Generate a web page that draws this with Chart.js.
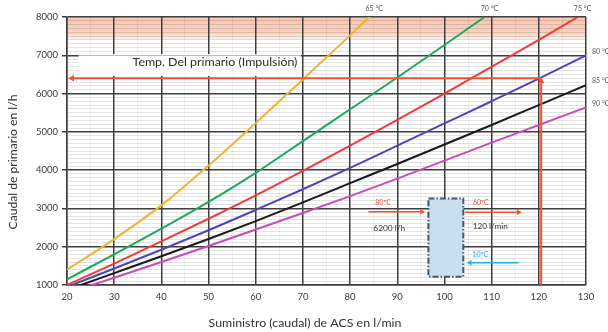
<!DOCTYPE html>
<html><head><meta charset="utf-8">
<script src="https://cdn.jsdelivr.net/npm/chart.js@4.4.1/dist/chart.umd.min.js"></script>
<style>html,body{margin:0;padding:0;background:#fff;}</style>
</head><body>
<canvas id="c" width="608" height="332"></canvas>
<script>
// ---- data ----
const flow = [20, 30, 40, 50, 60, 70, 80, 90, 100, 110, 120, 130];
const t65 = [1400, 2200, 3080, 4120, 5230, 6370, 7520, 8700, null, null, null, null];
const t70 = [1150, 1800, 2470, 3170, 3930, 4760, 5590, 6420, 7270, 8130, null, null];
const t75 = [1000, 1560, 2140, 2730, 3340, 3980, 4640, 5310, 6000, 6700, 7400, 8130];
const t80 = [950, 1430, 1920, 2430, 2960, 3500, 4060, 4640, 5220, 5800, 6390, 7000];
const t85 = [870, 1310, 1750, 2200, 2670, 3160, 3660, 4160, 4670, 5180, 5700, 6220];
const t90 = [790, 1190, 1600, 2020, 2450, 2880, 3320, 3780, 4250, 4720, 5180, 5640];
const seriesNames = ['65 °C', '70 °C', '75 °C', '80 °C', '85 °C', '90 °C'];
const seriesColors = ['#f2b232', '#1ca95c', '#ef3b3b', '#4f46b3', '#1a1a1a', '#c64cb8'];
const xTickLabels = [20, 30, 40, 50, 60, 70, 80, 90, 100, 110, 120, 130];
const yTickLabels = [1000, 2000, 3000, 4000, 5000, 6000, 7000, 8000];
const readFlow = 120.5;      // l/min
const readPrimary = 6400;    // l/h
const hotBand = [7400, 8000];
const exchanger = {x0: 96.6, x1: 104.0, y0: 1217, y1: 3262};

const FONT = 'Lato, "Open Sans", sans-serif';
const allSeries = [t65, t70, t75, t80, t85, t90];

function fitText(ctx, text, width, base) {
  ctx.font = base + 'px ' + FONT;
  const w = ctx.measureText(text).width;
  ctx.font = (base * width / w).toFixed(2) + 'px ' + FONT;
}

function arrow(ctx, x1, y1, x2, y2, color, w, head) {
  ctx.save();
  ctx.strokeStyle = color; ctx.fillStyle = color; ctx.lineWidth = w;
  const ang = Math.atan2(y2 - y1, x2 - x1);
  const hx = x2 - Math.cos(ang) * head, hy = y2 - Math.sin(ang) * head;
  ctx.beginPath(); ctx.moveTo(x1, y1); ctx.lineTo(hx, hy); ctx.stroke();
  ctx.beginPath();
  ctx.moveTo(x2, y2);
  ctx.lineTo(hx + Math.sin(ang) * head * 0.55, hy - Math.cos(ang) * head * 0.55);
  ctx.lineTo(hx - Math.sin(ang) * head * 0.55, hy + Math.cos(ang) * head * 0.55);
  ctx.closePath(); ctx.fill();
  ctx.restore();
}

const deco = {
  id: 'deco',
  beforeDraw(chart) {
    const {ctx, chartArea: a, scales: {x, y}} = chart;
    const yt = y.getPixelForValue(hotBand[1]), yb = y.getPixelForValue(hotBand[0]);
    const g = ctx.createLinearGradient(0, yt, 0, yb);
    g.addColorStop(0, 'rgb(247,198,176)');
    g.addColorStop(0.7, 'rgb(249,210,192)');
    g.addColorStop(1, 'rgba(253,236,228,0.6)');
    ctx.save(); ctx.fillStyle = g;
    ctx.fillRect(a.left, yt, a.right - a.left, yb - yt);
    ctx.restore();
  },
  beforeDatasetsDraw(chart) {
    const {ctx, scales: {x, y}} = chart;
    ctx.save();
    // white box behind the caption
    const bx0 = x.getPixelForValue(22.5), bx1 = x.getPixelForValue(69.5);
    const by0 = y.getPixelForValue(7030), by1 = y.getPixelForValue(6460);
    ctx.fillStyle = '#ffffff';
    ctx.fillRect(bx0, by0, bx1 - bx0, by1 - by0);
    ctx.strokeStyle = '#bdbdbd'; ctx.lineWidth = 1;
    const y7 = Math.round(y.getPixelForValue(7000)) + 0.5;
    ctx.beginPath(); ctx.moveTo(bx0, y7); ctx.lineTo(bx1, y7); ctx.stroke();
    // heat exchanger
    const ex0 = x.getPixelForValue(exchanger.x0), ex1 = x.getPixelForValue(exchanger.x1);
    const ey0 = y.getPixelForValue(exchanger.y1), ey1 = y.getPixelForValue(exchanger.y0);
    ctx.fillStyle = '#c7dff1';
    ctx.fillRect(ex0, ey0, ex1 - ex0, ey1 - ey0);
    ctx.setLineDash([6, 2, 1.5, 2]);
    ctx.strokeStyle = '#4a5566'; ctx.lineWidth = 2;
    ctx.strokeRect(ex0, ey0, ex1 - ex0, ey1 - ey0);
    ctx.restore();
  },
  afterDatasetsDraw(chart) {
    const {ctx, chartArea: a, scales: {x, y}} = chart;
    const red = '#f0522e';
    // reading lines
    const rx = x.getPixelForValue(readFlow), ry = y.getPixelForValue(readPrimary);
    arrow(ctx, rx, ry, a.left + 1, ry, red, 2, 6);
    arrow(ctx, rx, a.bottom, rx, ry - 1, red, 2, 6);
    // schematic arrows
    arrow(ctx, x.getPixelForValue(83.9), y.getPixelForValue(2913), x.getPixelForValue(95.9), y.getPixelForValue(2913), red, 1.5, 5);
    arrow(ctx, x.getPixelForValue(104.4), y.getPixelForValue(2897), x.getPixelForValue(116.4), y.getPixelForValue(2897), red, 1.5, 5);
    arrow(ctx, x.getPixelForValue(115.7), y.getPixelForValue(1582), x.getPixelForValue(104.7), y.getPixelForValue(1582), '#1fb0e2', 1.5, 5);
    ctx.save();
    ctx.textAlign = 'center'; ctx.textBaseline = 'middle';
    ctx.font = '7px ' + FONT;
    ctx.fillStyle = red;
    ctx.fillText('80ºC', x.getPixelForValue(87), y.getPixelForValue(3150));
    ctx.fillText('60ºC', x.getPixelForValue(107.7), y.getPixelForValue(3147));
    ctx.fillStyle = '#1fb0e2';
    ctx.fillText('10ºC', x.getPixelForValue(107.6), y.getPixelForValue(1783));
    ctx.fillStyle = '#333';
    fitText(ctx, '6200 l/h', 32, 8);
    ctx.fillText('6200 l/h', x.getPixelForValue(88.3), y.getPixelForValue(2487));
    fitText(ctx, '120 l/min', 35, 8);
    ctx.fillText('120 l/min', x.getPixelForValue(109.7), y.getPixelForValue(2520));
    // caption
    fitText(ctx, 'Temp. Del primario (Impulsión)', 165, 12);
    ctx.textAlign = 'left';
    ctx.fillStyle = '#2b2b2b';
    ctx.fillText('Temp. Del primario (Impulsión)', x.getPixelForValue(33.9), y.getPixelForValue(6818));
    // series labels
    ctx.font = '7px ' + FONT;
    ctx.fillStyle = '#555';
    allSeries.forEach((s, i) => {
      let crossX = null;
      for (let k = 1; k < s.length; k++) {
        if (s[k] != null && s[k] >= 8000 && s[k - 1] < 8000) {
          crossX = flow[k - 1] + (8000 - s[k - 1]) / (s[k] - s[k - 1]) * (flow[k] - flow[k - 1]);
        }
      }
      if (crossX != null) {
        ctx.textAlign = 'center';
        ctx.fillText(seriesNames[i], x.getPixelForValue(crossX) + 5, a.top - 8);
      } else {
        ctx.textAlign = 'left';
        ctx.fillText(seriesNames[i], a.right + 6, y.getPixelForValue(s[s.length - 1]) - 4);
      }
    });
    ctx.restore();
  },
  afterDraw(chart) {
    const {ctx} = chart;
    ctx.save();
    ctx.fillStyle = '#333';
    ctx.textAlign = 'center'; ctx.textBaseline = 'middle';
    fitText(ctx, 'Suministro (caudal) de ACS en l/min', 193, 12);
    ctx.fillText('Suministro (caudal) de ACS en l/min', 305, 323);
    ctx.translate(13, 162);
    ctx.rotate(-Math.PI / 2);
    fitText(ctx, 'Caudal de primario en l/h', 135, 12);
    ctx.fillText('Caudal de primario en l/h', 0, 0);
    ctx.restore();
  }
};

const datasets = allSeries.map((s, i) => ({
  label: seriesNames[i],
  data: flow.map((f, k) => ({x: f, y: s[k]})),
  borderColor: seriesColors[i],
  borderWidth: 2,
  pointRadius: 0,
  cubicInterpolationMode: 'monotone',
  spanGaps: false,
  fill: false
}));

const MAJOR = '#3e3e3e';
new Chart(document.getElementById('c'), {
  type: 'line',
  data: {datasets},
  plugins: [deco],
  options: {
    responsive: false,
    animation: false,
    devicePixelRatio: 1,
    layout: {padding: {top: 17, right: 22, left: 0, bottom: 0}},
    plugins: {legend: {display: false}, tooltip: {enabled: false}},
    scales: {
      x: {
        type: 'linear', min: 20, max: 130,
        afterFit(s) { s.height = 47; },
        afterBuildTicks(s) { const t = []; for (let v = 20; v <= 130; v += 5) t.push({value: v}); s.ticks = t; },
        ticks: {autoSkip: false, maxRotation: 0, padding: 6, color: '#3a3a3a', font: {family: FONT, size: 9.5},
          callback: v => xTickLabels.includes(v) ? String(v) : ''},
        grid: {drawTicks: false, z: -1,
          color: c => (c.tick && c.tick.value % 10 === 0) ? MAJOR : 'rgba(0,0,0,0.06)',
          lineWidth: c => (c.tick && c.tick.value % 10 === 0) ? 1.5 : 1},
        border: {display: true, color: MAJOR, width: 1.5}
      },
      y: {
        type: 'linear', min: 1000, max: 8000,
        afterFit(s) { s.width = 67; },
        afterBuildTicks(s) { const t = []; for (let v = 1000; v <= 8000; v += 100) t.push({value: v}); s.ticks = t; },
        ticks: {autoSkip: false, padding: 4, color: '#3a3a3a', font: {family: FONT, size: 9.5},
          callback: v => yTickLabels.includes(v) ? String(v) : ''},
        grid: {drawTicks: true, tickLength: 5, z: -2,
          tickColor: c => (c.tick && c.tick.value % 1000 === 0) ? MAJOR : 'rgba(0,0,0,0)',
          color: c => (c.tick && c.tick.value % 1000 === 0) ? MAJOR : 'rgba(0,0,0,0.11)',
          lineWidth: c => (c.tick && c.tick.value % 1000 === 0) ? 1.5 : 1},
        border: {display: true, color: MAJOR, width: 1.5}
      }
    }
  }
});
</script>
</body></html>
